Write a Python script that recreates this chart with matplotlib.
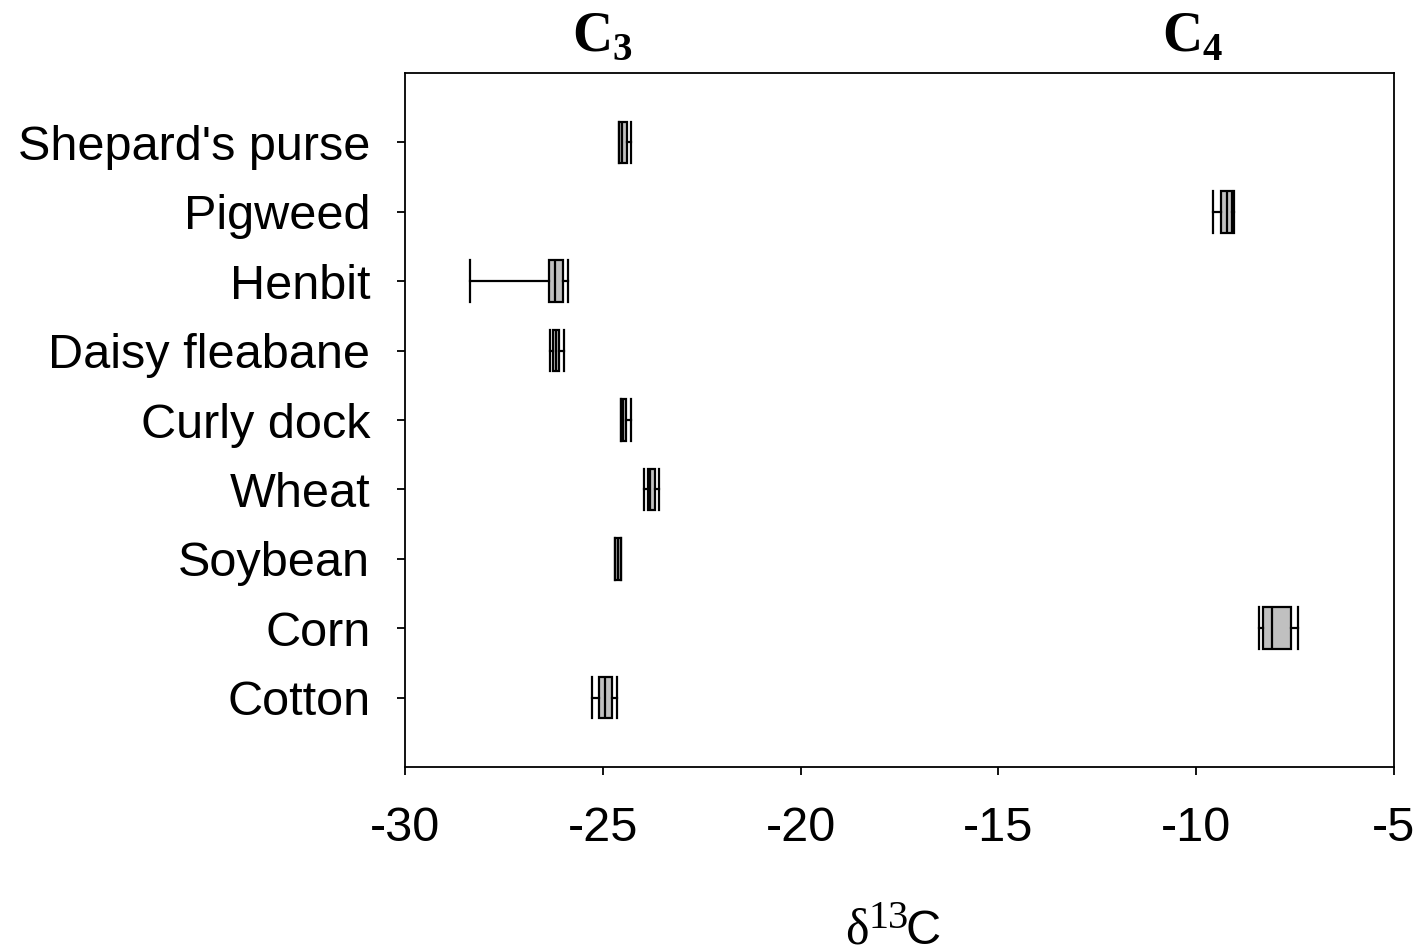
"""
Carbon isotope ratios (delta 13C) of crop and weed species, shown as
horizontal box plots, with the C3 and C4 photosynthetic groups marked.
"""

import matplotlib
matplotlib.use("Agg")
import matplotlib.pyplot as plt

plt.rcParams.update({
    "font.family": "Liberation Sans",
    "axes.unicode_minus": False,
    "mathtext.fontset": "custom",
    "mathtext.rm": "Liberation Serif",
    "mathtext.bf": "Liberation Serif:bold",
})

# ── Data: five-number summaries per species (top to bottom) ────────────────────
species = ["Shepard's purse", "Pigweed", "Henbit", "Daisy fleabane",
           "Curly dock", "Wheat", "Soybean", "Corn", "Cotton"]
whislo = [-24.59, -9.57, -28.35, -26.33, -24.55, -23.95, -24.69, -8.42, -25.27]
q1     = [-24.59, -9.38, -26.35, -26.26, -24.55, -23.87, -24.69, -8.32, -25.09]
med    = [-24.51, -9.23, -26.21, -26.18, -24.50, -23.80, -24.62, -8.08, -24.94]
q3     = [-24.39, -9.10, -26.01, -26.11, -24.42, -23.69, -24.54, -7.60, -24.78]
whishi = [-24.29, -9.04, -25.87, -25.98, -24.29, -23.57, -24.54, -7.43, -24.63]

group_labels = [r"$\mathbf{C}_\mathbf{3}$", r"$\mathbf{C}_\mathbf{4}$"]
group_x      = [-25.0, -10.1]

xticks = [-30, -25, -20, -15, -10, -5]

W, H = 1420, 952


def main():
    fig = plt.figure(figsize=(W / 100, H / 100), dpi=100)
    ax = fig.add_axes([405 / W, 1 - 767 / H, (1394 - 405) / W, (767 - 73) / H])

    # positions 9..1 so the first species sits on top
    positions = list(range(len(species), 0, -1))
    stats = [
        dict(label=s, whislo=lo, q1=a, med=m, q3=b, whishi=hi, fliers=[])
        for s, lo, a, m, b, hi in zip(species, whislo, q1, med, q3, whishi)
    ]

    lw = 1.6
    ax.bxp(stats, positions=positions, widths=0.6, capwidths=0.6,
           orientation="horizontal", patch_artist=True, showfliers=False,
           boxprops=dict(facecolor="#c0c0c0", edgecolor="black", linewidth=lw),
           medianprops=dict(color="black", linewidth=lw),
           whiskerprops=dict(color="black", linewidth=lw),
           capprops=dict(color="black", linewidth=lw))

    ax.set_xlim(-30, -5)
    ax.set_ylim(0, 10)
    ax.set_xticks(xticks)
    ax.set_xticklabels([str(t) for t in xticks])
    ax.set_yticks(positions)
    ax.set_yticklabels(species)

    for sp in ax.spines.values():
        sp.set_linewidth(1.3)
    ax.tick_params(axis="x", direction="out", length=6, width=1.3,
                   labelsize=35, pad=22)
    ax.tick_params(axis="y", direction="out", length=6, width=1.3,
                   labelsize=35, pad=19)

    # photosynthetic pathway headers above the plot
    for lab, gx in zip(group_labels, group_x):
        ax.text(gx, 1.015, lab, transform=ax.get_xaxis_transform(),
                ha="center", va="bottom", fontsize=40)

    # axis title: delta (serif), superscript 13 (serif), C (sans)
    fig.text(845 / W, 1 - 944 / H, "\u03b4", family="Liberation Serif",
             fontsize=36, ha="left", va="baseline")
    fig.text(869 / W, 1 - 928 / H, "13", family="Liberation Serif",
             fontsize=29, ha="left", va="baseline")
    fig.text(906 / W, 1 - 944 / H, "C", family="Liberation Sans",
             fontsize=35, ha="left", va="baseline")

    fig.savefig("out.png", dpi=100)
    plt.close(fig)


if __name__ == "__main__":
    main()
